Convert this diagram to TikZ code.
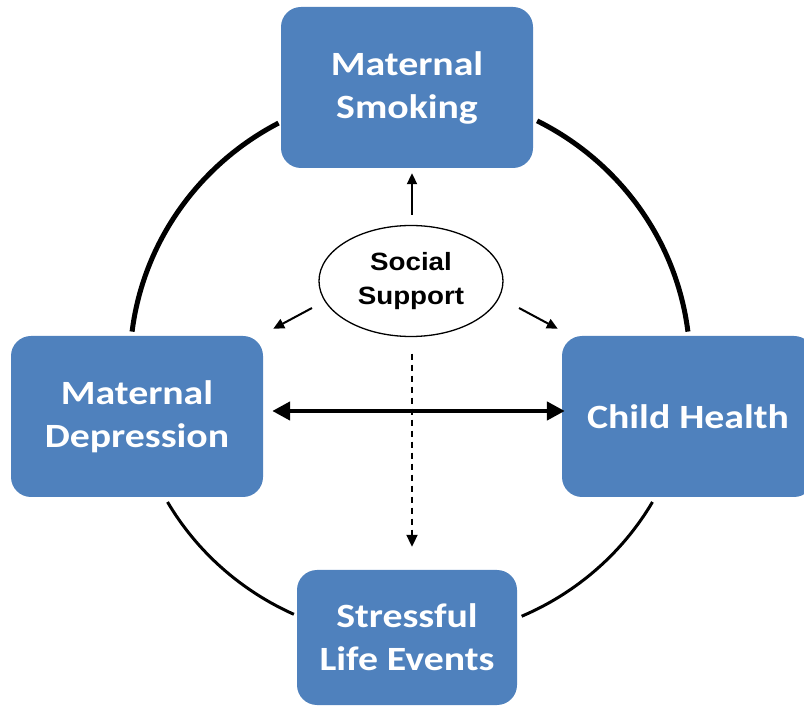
\documentclass[tikz,border=0pt]{standalone}
\usepackage{fontspec}
\setmainfont{Carlito}
\newfontfamily\boxfont{Carlito}[FakeStretch=1.17]
\newfontfamily\supportfont{Liberation Sans}[FakeStretch=1.11]
\usepackage{tikz}
\usetikzlibrary{arrows.meta,shapes,positioning}
\definecolor{boxblue}{RGB}{79,129,189}

\begin{document}
\begin{tikzpicture}[x=1pt, y=1pt, >={Triangle[length=11pt,width=10pt]},
    block/.style={rectangle, fill=boxblue, text=white, rounded corners=20pt, align=center, inner sep=0pt,
        font=\boxfont\fontsize{34}{43}\selectfont\bfseries, minimum width=252pt, minimum height=161pt},
    support/.style={ellipse, draw, line width=1.3pt, fill=white, align=center, inner sep=0pt,
        font=\supportfont\fontsize{25}{34}\selectfont\bfseries, minimum width=184pt, minimum height=111pt},
    line/.style={draw, ->, line width=2pt},
    ring/.style={line width=3pt},
    ringtop/.style={line width=5pt}]

    \useasboundingbox (0,0) rectangle (804,705);
    \clip (0,0) rectangle (804,705);

    % the cycle round the four boxes
    \coordinate (hub) at (410,340);
    \draw [ringtop] ([shift={(118:280 and 274)}]hub) arc [start angle=118, end angle=173, x radius=280, y radius=274];
    \draw [ringtop] ([shift={(63:280 and 274)}]hub) arc [start angle=63, end angle=7, x radius=280, y radius=274];
    \draw [ring] ([shift={(210:280 and 274)}]hub) arc [start angle=210, end angle=245.5, x radius=280, y radius=274];
    \draw [ring] ([shift={(293.5:280 and 274)}]hub) arc [start angle=293.5, end angle=330, x radius=280, y radius=274];

    \node [block] (smoke) at (407,617.5) {Maternal\\Smoking};
    \node [block] (dep) at (137,288.5) {Maternal\\Depression};
    \node [block] (child) at (688,288.5) {Child Health};
    \node [block, minimum width=220pt, minimum height=135pt] (stress) at (407,67.5) {Stressful\\Life Events};
    \node [support] (soc) at (411,424) {Social\\Support};

    \path [line] ([shift={(1,10)}]soc.north) -- ([shift={(5,-5)}]smoke.south);
    \path [line] ([shift={(-99,-27)}]soc.center) -- ([shift={(10,7)}]dep.north east);
    \path [line] ([shift={(108,-27)}]soc.center) -- ([shift={(-4,7)}]child.north west);
    \path [line, dash pattern=on 6pt off 5pt, -{Triangle[length=12pt,width=11pt]}]
        ([shift={(1,-16.5)}]soc.south) -- ([shift={(5,23)}]stress.north);
    \path [line, line width=4.5pt, {Triangle[length=18pt,width=18pt]}-{Triangle[length=18pt,width=18pt]}]
        ([shift={(9,5.5)}]dep.east) -- ([shift={(3,5.5)}]child.west);

\end{tikzpicture}
\end{document}
